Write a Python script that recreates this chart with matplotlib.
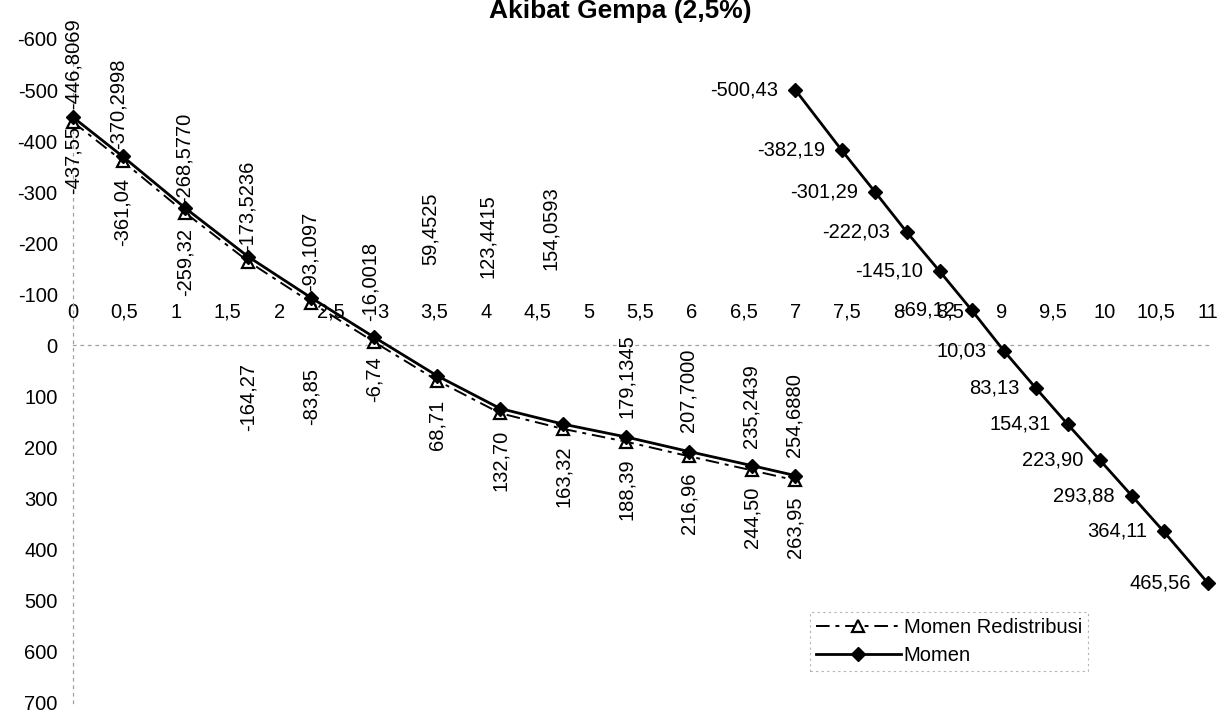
import matplotlib
matplotlib.use('Agg')
import matplotlib.pyplot as plt
import numpy as np

plt.rcParams['font.family'] = ['Liberation Sans', 'DejaVu Sans']

# data
x_left = [0, 0.48, 1.09, 1.70, 2.31, 2.92, 3.53, 4.14, 4.75, 5.36, 5.97, 6.58, 7.0]
momen_left = [-446.8069, -370.2998, -268.5770, -173.5236, -93.1097, -16.0018, 59.4525,
              123.4415, 154.0593, 179.1345, 207.7000, 235.2439, 254.6880]
redist_left = [-437.55, -361.04, -259.32, -164.27, -83.85, -6.74, 68.71,
               132.70, 163.32, 188.39, 216.96, 244.50, 263.95]
x_right = [7.0, 7.45, 7.77, 8.08, 8.40, 8.71, 9.02, 9.33, 9.64, 9.95, 10.26, 10.57, 11.0]
momen_right = [-500.43, -382.19, -301.29, -222.03, -145.10, -69.12, 10.03,
               83.13, 154.31, 223.90, 293.88, 364.11, 465.56]
x_ticks = np.arange(0, 11.01, 0.5)
y_ticks = np.arange(-600, 701, 100)

# label offsets (points) -- some labels were dragged by hand in the original
mom_dx = [0, -3, -1, -1, -1, -3, -5, -9, -9, 0, -1, -1, -1]
mom_dy = [6, 5, 4, 4, 5, 12, 80, 94, 111, 14, 14, 13, 13]
red_dy = [-3, -12, -11, -73, -47, -10, -14, -12, -12, -12, -12, -12, -12]

fs = 14.5


def comma(v, nd):
    return f"{v:.{nd}f}".replace('.', ',')


fig = plt.figure(figsize=(12.31, 7.18), dpi=100)
ax = fig.add_axes([73 / 1231, 1 - 703 / 718, (1208 - 73) / 1231, (703 - 39) / 718])

ax.plot(x_left, redist_left, color='black', lw=1.4, dashes=[7, 3, 2, 3],
        marker='^', ms=8, mfc='white', mec='black', mew=1.6, label='Momen Redistribusi',
        zorder=3, clip_on=False)
ax.plot(x_left, momen_left, color='black', lw=2, marker='D', ms=7, mfc='black', mec='black',
        label='Momen', zorder=4, clip_on=False)
ax.plot(x_right, momen_right, color='black', lw=2, marker='D', ms=7, mfc='black', mec='black',
        zorder=4, clip_on=False)

for i, (x, v) in enumerate(zip(x_left, momen_left)):
    ax.annotate(comma(v, 4), (x, v), xytext=(mom_dx[i], mom_dy[i]), textcoords='offset points',
                rotation=90, ha='center', va='bottom', fontsize=fs)
for i, (x, v) in enumerate(zip(x_left, redist_left)):
    ax.annotate(comma(v, 2), (x, v), xytext=(0, red_dy[i]), textcoords='offset points',
                rotation=90, ha='center', va='top', fontsize=fs)
for x, v in zip(x_right, momen_right):
    ax.annotate(comma(v, 2), (x, v), xytext=(-12, 0), textcoords='offset points',
                ha='right', va='center', fontsize=fs)

ax.set_xlim(0, 11)
ax.set_ylim(700, -600)
ax.set_xticks(x_ticks)
ax.set_xticklabels([f"{t:g}".replace('.', ',') for t in x_ticks])
ax.set_yticks(y_ticks)
ax.set_yticklabels([f"{t:g}" for t in y_ticks])

ax.xaxis.set_ticks_position('top')
ax.spines['top'].set_position(('data', 0))
ax.spines['bottom'].set_visible(False)
ax.spines['right'].set_visible(False)
for s in ('top', 'left'):
    ax.spines[s].set_color('#a0a0a0')
    ax.spines[s].set_linestyle((0, (2, 4)))
    ax.spines[s].set_linewidth(0.9)
ax.tick_params(axis='x', length=0, pad=17, labelsize=fs, labeltop=True, labelbottom=False)
ax.tick_params(axis='y', length=0, pad=11, labelsize=fs)
ax.patch.set_alpha(0)

leg = fig.legend(loc='upper left', bbox_to_anchor=(810 / 1231, 1 - 612 / 718), fontsize=fs,
                 handlelength=4.2, handletextpad=0.15, labelspacing=0.45, borderpad=0.3,
                 numpoints=1, fancybox=False, borderaxespad=0)
leg.get_frame().set_edgecolor('#a0a0a0')
leg.get_frame().set_linestyle((0, (2, 3)))
leg.get_frame().set_linewidth(0.8)

fig.text(620 / 1231, 1 - 11 / 718, 'Akibat Gempa (2,5%)', ha='center', va='center',
         fontsize=19, fontweight='bold')

fig.savefig('out.png', dpi=100)
